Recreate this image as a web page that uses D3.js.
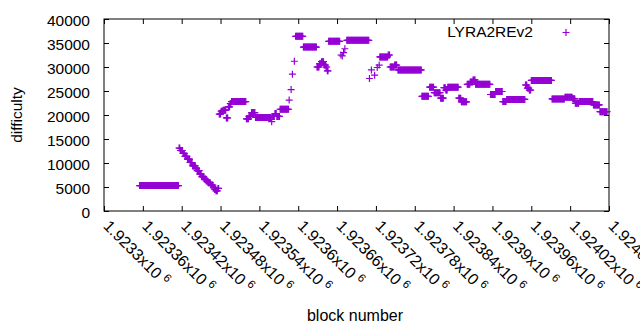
<!DOCTYPE html>
<html>
<head>
<meta charset="utf-8">
<script src="https://cdn.jsdelivr.net/npm/d3@7"></script>
<style>
  body { margin: 0; background: #fff; }
  text { font-family: "Liberation Sans", Arial, sans-serif; fill: #000; }
</style>
</head>
<body>
<div class="chart"></div>
<script>
var runStart = [
  1923355, 1923416, 1923418, 1923422, 1923425, 1923429, 1923433, 1923437, 1923442, 1923444,
  1923448, 1923451, 1923455, 1923458, 1923461, 1923465, 1923469, 1923471, 1923473, 1923476,
  1923478, 1923481, 1923484, 1923489, 1923492, 1923495, 1923497, 1923520, 1923524, 1923528,
  1923534, 1923559, 1923560, 1923564, 1923567, 1923572, 1923586, 1923589, 1923591, 1923594,
  1923596, 1923608, 1923629, 1923633, 1923636, 1923640, 1923643, 1923645, 1923647, 1923666,
  1923668, 1923670, 1923672, 1923675, 1923710, 1923713, 1923718, 1923722, 1923725, 1923726,
  1923739, 1923742, 1923749, 1923754, 1923791, 1923803, 1923810, 1923820, 1923825, 1923828,
  1923831, 1923848, 1923852, 1923861, 1923866, 1923870, 1923874, 1923897, 1923905, 1923916,
  1923922, 1923951, 1923954, 1923957, 1923960, 1923992, 1924012, 1924024, 1924028, 1924034,
  1924056, 1924066
];
var runEnd = [
  1923415, 1923417, 1923421, 1923424, 1923428, 1923432, 1923436, 1923441, 1923443, 1923447,
  1923450, 1923454, 1923457, 1923460, 1923464, 1923468, 1923470, 1923472, 1923475, 1923477,
  1923480, 1923483, 1923488, 1923491, 1923494, 1923496, 1923519, 1923523, 1923527, 1923533,
  1923558, 1923559, 1923563, 1923566, 1923571, 1923585, 1923586, 1923589, 1923591, 1923594,
  1923607, 1923628, 1923632, 1923635, 1923639, 1923642, 1923644, 1923646, 1923664, 1923666,
  1923668, 1923670, 1923672, 1923709, 1923710, 1923713, 1923718, 1923722, 1923725, 1923738,
  1923741, 1923748, 1923752, 1923790, 1923801, 1923809, 1923819, 1923824, 1923827, 1923830,
  1923847, 1923851, 1923860, 1923865, 1923869, 1923873, 1923896, 1923904, 1923915, 1923921,
  1923950, 1923953, 1923956, 1923959, 1923991, 1924011, 1924023, 1924027, 1924033, 1924055,
  1924065, 1924077
];
var runDifficulty = [
  5300, 13100, 12600, 12000, 11400, 10800, 10100, 9400, 8900, 8400,
  7700, 7150, 6650, 6250, 5900, 5400, 4950, 4500, 4200, 4700,
  20200, 20800, 21000, 19400, 21700, 22400, 22800, 19200, 19700, 20500,
  19500, 18600, 19700, 20300, 19700, 21200, 23100, 25300, 28500, 31200,
  36400, 34150, 30000, 30700, 31100, 30400, 30000, 29200, 35350, 32500,
  32300, 33000, 33800, 35560, 27600, 29400, 28300, 29900, 30400, 32100,
  32500, 30000, 30400, 29400, 23900, 25800, 24650, 23500, 25700, 25200,
  25800, 23500, 22750, 26400, 26900, 27300, 26400, 24270, 24900, 22800,
  23250, 26250, 25600, 25200, 27200, 23350, 23700, 23400, 22450, 22800,
  22100, 20700
];
var seriesName = "LYRA2REv2";
var xTicks = d3.range(1923300, 1924081, 60);
var yTicks = d3.range(0, 40001, 5000);

var margin = { top: 19, right: 31, bottom: 119, left: 104 };
var svgWidth = 640;
var svgHeight = 330;
var width = svgWidth - margin.left - margin.right;
var height = svgHeight - margin.top - margin.bottom;
var color = "#9400d3";

var points = [];
runStart.forEach(function (s, i) {
  for (var b = s; b <= runEnd[i]; b++) {
    points.push({ block: b, difficulty: runDifficulty[i] });
  }
});

var svg = d3.select('.chart')
  .append('svg')
  .attr('width', svgWidth)
  .attr('height', svgHeight);

var canvas = svg.append("g")
  .attr("transform", "translate(" + margin.left + "," + margin.top + ")");

var xScale = d3.scaleLinear()
  .domain([1923300, 1924080])
  .range([0, width]);

var yScale = d3.scaleLinear()
  .domain([0, 40000])
  .range([height, 0]);

// ticks point inward on all four sides, like gnuplot's mirrored tics
var xAxis = d3.axisBottom(xScale).tickValues(xTicks).tickSizeInner(-5).tickSizeOuter(0).tickFormat("");
var xAxisTop = d3.axisTop(xScale).tickValues(xTicks).tickSizeInner(-5).tickSizeOuter(0).tickFormat("");
var yAxis = d3.axisLeft(yScale).tickValues(yTicks).tickSizeInner(-5).tickSizeOuter(0)
  .tickPadding(14).tickFormat(d3.format("d"));
var yAxisRight = d3.axisRight(yScale).tickValues(yTicks).tickSizeInner(-5).tickSizeOuter(0).tickFormat("");

var gx = canvas.append("g")
  .attr("class", "x axis")
  .attr("transform", "translate(0," + height + ")")
  .call(xAxis);
canvas.append("g").attr("class", "x axis").call(xAxisTop);
var gy = canvas.append("g").attr("class", "y axis").call(yAxis);
canvas.append("g").attr("class", "y axis")
  .attr("transform", "translate(" + width + ",0)")
  .call(yAxisRight);

canvas.selectAll(".axis .domain").remove();
canvas.selectAll(".axis line").attr("stroke", "#000").attr("stroke-width", 1);

gy.selectAll("text")
  .attr("font-size", 15.5)
  .attr("font-family", "Liberation Sans, Arial, sans-serif")
  .attr("dy", "0.4em");

// rotated tick labels in gnuplot's mantissa x10^exp form
var mant = d3.format(".6~g");
gx.selectAll(".tick").each(function (d) {
  var t = d3.select(this).append("text")
    .attr("transform", "translate(-2,16) rotate(45)")
    .attr("text-anchor", "start")
    .attr("font-size", 16)
    .attr("fill", "#000");
  t.append("tspan").text(mant(d / 1e6) + "x10");
  t.append("tspan").attr("font-size", 11.5).attr("dx", 4).attr("dy", -6).text("6");
});

canvas.append("rect")
  .attr("width", width)
  .attr("height", height)
  .attr("fill", "none")
  .attr("stroke", "#000")
  .attr("stroke-width", 1);

var cross = "M-3.5,0H3.5M0,-3.5V3.5";

canvas.selectAll('path.pt')
  .data(points)
  .enter()
  .append('path')
  .attr('class', 'pt')
  .attr('d', cross)
  .attr('transform', function (d) {
    return "translate(" + xScale(d.block) + "," + yScale(d.difficulty) + ")";
  })
  .attr('fill', 'none')
  .attr('stroke', color)
  .attr('stroke-width', 1.2);

// key
svg.append("text")
  .attr("x", 533)
  .attr("y", 37)
  .attr("text-anchor", "end")
  .attr("font-size", 15.5)
  .text(seriesName);
svg.append("path")
  .attr("d", cross)
  .attr("transform", "translate(566,32.5)")
  .attr("fill", "none")
  .attr("stroke", color)
  .attr("stroke-width", 1.2);

// axis titles
svg.append("text")
  .attr("transform", "translate(22," + (margin.top + height / 2) + ") rotate(-90)")
  .attr("text-anchor", "middle")
  .attr("font-size", 15.5)
  .text("difficulty");
svg.append("text")
  .attr("x", 355)
  .attr("y", 321)
  .attr("text-anchor", "middle")
  .attr("font-size", 16)
  .text("block number");
</script>
</body>
</html>
